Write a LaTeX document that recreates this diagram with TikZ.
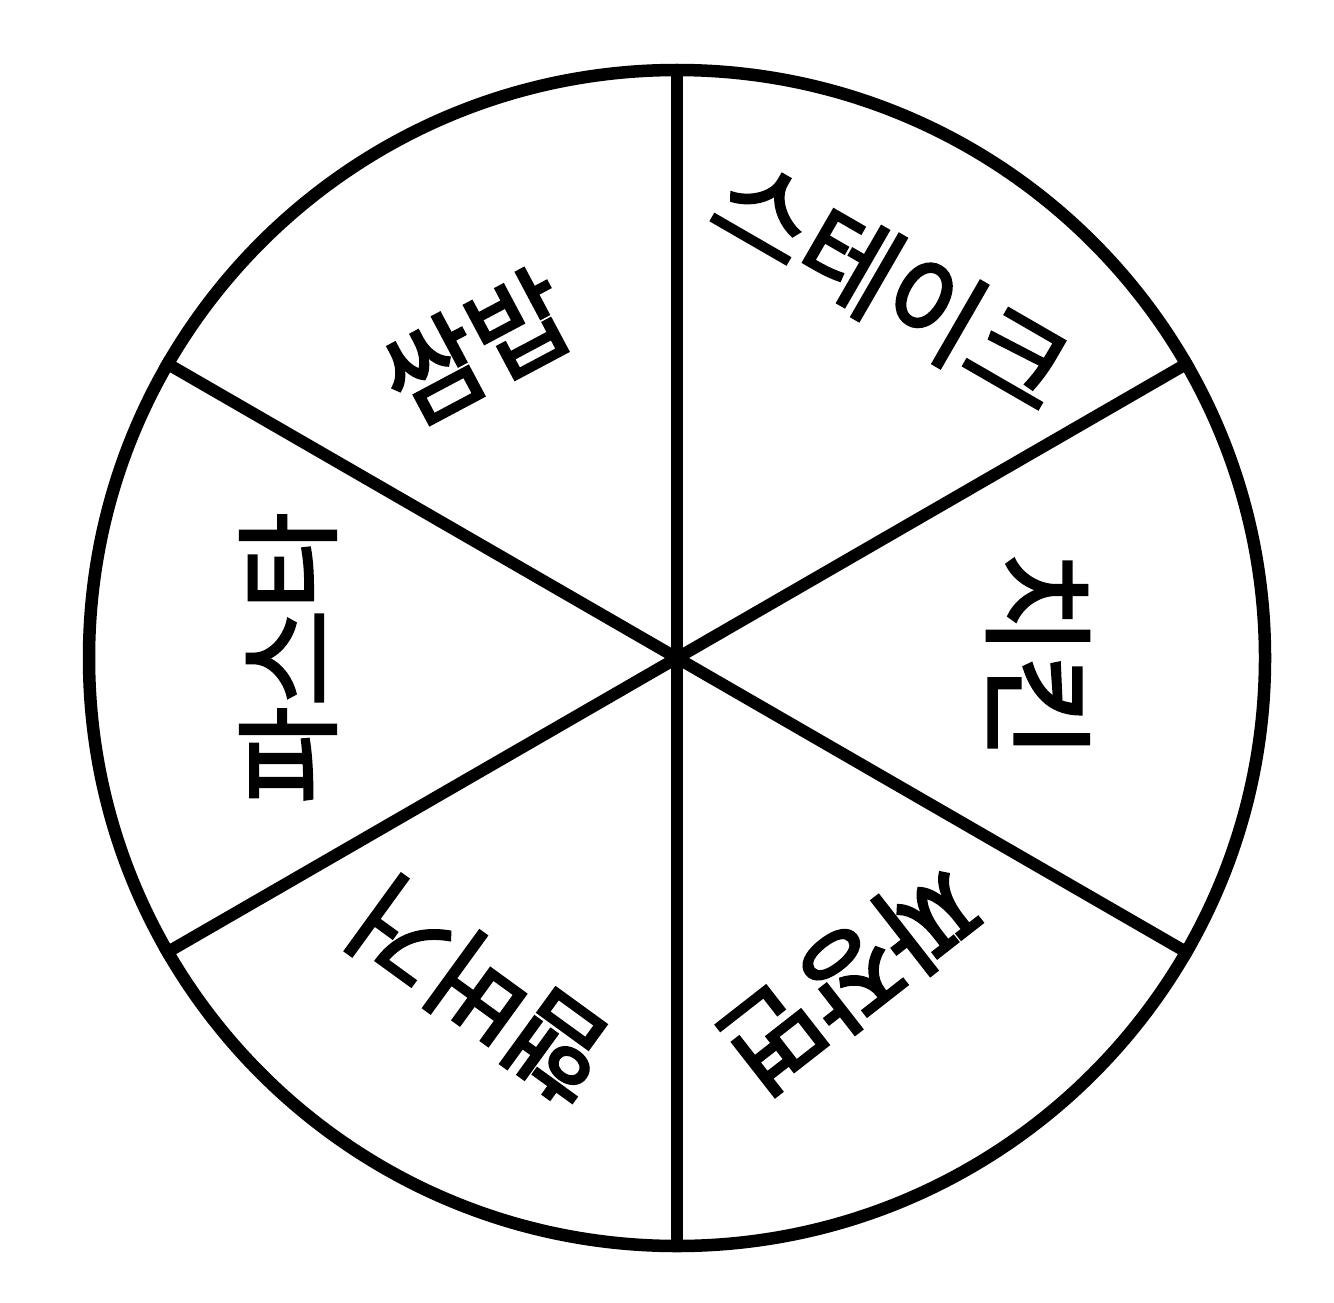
\documentclass[tikz,border=0pt]{standalone}
\usepackage{fontspec}
\newfontfamily\kr[FakeBold=2.5]{Noto Sans CJK KR}
\begin{document}
\begin{tikzpicture}[x=1cm,y=1cm,
  rim/.style={circle, draw=black, line width=1.25mm, minimum size=11.76cm, inner sep=0pt},
  spoke/.style={draw=black, line width=1.2mm},
  food/.style={font=\kr\fontsize{30}{32}\selectfont, inner sep=0pt, text=black}]
\fill[white] (0,0) rectangle (13.34,-13.02);
\useasboundingbox (0,0) rectangle (13.34,-13.02);
\node[rim] (wheel) at (6.77,-6.58) {};
\draw[spoke] (wheel.center) -- (wheel.90);
\draw[spoke] (wheel.center) -- (wheel.30);
\draw[spoke] (wheel.center) -- (wheel.-30);
\draw[spoke] (wheel.center) -- (wheel.-90);
\draw[spoke] (wheel.center) -- (wheel.-150);
\draw[spoke] (wheel.center) -- (wheel.150);
\node[food, rotate=-30] (steak) at (8.92,-2.85) {스테이크};
\node[food, rotate=-90, font=\kr\fontsize{32}{34}\selectfont] (chicken) at (10.38,-6.55) {치킨};
\node[food, rotate=-142] (jjajang) at (8.50,-9.78) {짜장면};
\node[food, rotate=144] (burger) at (4.80,-9.90) {햄버거};
\node[food, rotate=90] (pasta) at (2.88,-6.58) {파스타};
\node[food, rotate=28] (ssambap) at (4.76,-3.47) {쌈밥};
\end{tikzpicture}
\end{document}
